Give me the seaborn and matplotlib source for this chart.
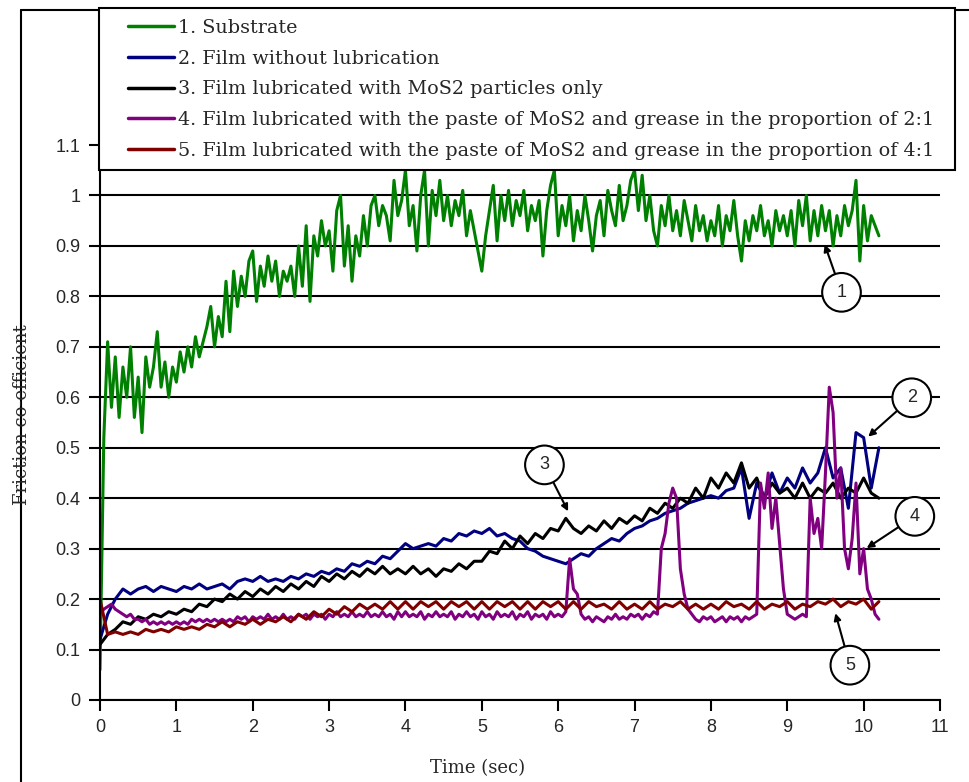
import numpy as np
import pandas as pd
import matplotlib.pyplot as plt
import seaborn as sns
from matplotlib.lines import Line2D
from matplotlib.patches import Rectangle

# series names and colours
labels = [
    "1. Substrate",
    "2. Film without lubrication",
    "3. Film lubricated with MoS2 particles only",
    "4. Film lubricated with the paste of MoS2 and grease in the proportion of 2:1",
    "5. Film lubricated with the paste of MoS2 and grease in the proportion of 4:1",
]
colors = ["#008000", "#000080", "#000000", "#800080", "#800000"]

substrate = [
    0.06, 0.52, 0.71, 0.58, 0.68, 0.56, 0.66, 0.60, 0.70, 0.56,
    0.64, 0.53, 0.68, 0.62, 0.66, 0.73, 0.62, 0.67, 0.60, 0.66,
    0.63, 0.69, 0.65, 0.70, 0.66, 0.72, 0.68, 0.71, 0.74, 0.78,
    0.70, 0.76, 0.72, 0.83, 0.73, 0.85, 0.78, 0.84, 0.80, 0.87,
    0.89, 0.79, 0.86, 0.82, 0.88, 0.83, 0.87, 0.80, 0.85, 0.83,
    0.86, 0.80, 0.90, 0.82, 0.94, 0.79, 0.92, 0.88, 0.95, 0.90,
    0.93, 0.85, 0.97, 1.00, 0.86, 0.94, 0.83, 0.92, 0.88, 0.96,
    0.90, 0.98, 1.00, 0.94, 0.98, 0.96, 0.91, 1.03, 0.96, 0.99,
    1.05, 0.94, 0.98, 0.89, 1.00, 1.05, 0.90, 1.01, 0.96, 1.03,
    0.95, 1.00, 0.94, 0.99, 0.96, 1.01, 0.92, 0.97, 0.93, 0.89,
    0.85, 0.92, 0.97, 1.02, 0.91, 1.00, 0.95, 1.01, 0.94, 0.99,
    0.96, 1.01, 0.93, 0.98, 0.95, 0.99, 0.88, 0.97, 1.02, 1.05,
    0.92, 0.98, 0.94, 1.00, 0.91, 0.97, 0.93, 1.00, 0.95, 0.89,
    0.96, 0.99, 0.92, 1.01, 0.97, 0.94, 1.02, 0.95, 0.98, 1.03,
    1.05, 0.97, 1.04, 0.95, 1.00, 0.93, 0.90, 0.98, 0.94, 1.00,
    0.93, 0.97, 0.92, 0.99, 0.95, 0.91, 0.98, 0.93, 0.96, 0.91,
    0.95, 0.92, 0.98, 0.90, 0.96, 0.93, 0.99, 0.92, 0.87, 0.95,
    0.91, 0.96, 0.93, 0.98, 0.92, 0.95, 0.90, 0.97, 0.93, 0.96,
    0.92, 0.97, 0.90, 0.99, 0.94, 1.00, 0.91, 0.97, 0.92, 0.98,
    0.93, 0.97, 0.90, 0.96, 0.92, 0.98, 0.94, 0.97, 1.03, 0.87,
    0.98, 0.91, 0.96, 0.94, 0.92,
]

# sampled every 0.1 s
no_lube = [
    0.12, 0.17, 0.20, 0.22, 0.21, 0.22, 0.225, 0.215, 0.225, 0.22,
    0.215, 0.225, 0.22, 0.23, 0.22, 0.225, 0.23, 0.22, 0.235, 0.24,
    0.235, 0.245, 0.235, 0.24, 0.235, 0.245, 0.24, 0.25, 0.245, 0.255,
    0.25, 0.26, 0.255, 0.27, 0.265, 0.275, 0.27, 0.285, 0.28, 0.295,
    0.31, 0.30, 0.305, 0.31, 0.305, 0.32, 0.315, 0.33, 0.325, 0.335,
    0.33, 0.34, 0.325, 0.33, 0.32, 0.315, 0.30, 0.295, 0.285, 0.28,
    0.275, 0.27, 0.28, 0.29, 0.285, 0.30, 0.31, 0.32, 0.315, 0.33,
    0.34, 0.345, 0.355, 0.36, 0.37, 0.375, 0.38, 0.39, 0.395, 0.40,
    0.405, 0.40, 0.415, 0.42, 0.46, 0.36, 0.43, 0.40, 0.45, 0.41,
    0.44, 0.42, 0.46, 0.43, 0.45, 0.50, 0.44, 0.46, 0.38, 0.53,
    0.52, 0.42, 0.50,
]

mos2_only = [
    0.11, 0.13, 0.14, 0.155, 0.15, 0.165, 0.16, 0.17, 0.165, 0.175,
    0.17, 0.18, 0.175, 0.19, 0.185, 0.20, 0.195, 0.21, 0.20, 0.215,
    0.205, 0.22, 0.21, 0.225, 0.215, 0.23, 0.22, 0.235, 0.225, 0.245,
    0.235, 0.25, 0.24, 0.255, 0.245, 0.26, 0.25, 0.265, 0.25, 0.26,
    0.25, 0.265, 0.25, 0.26, 0.245, 0.26, 0.255, 0.27, 0.26, 0.275,
    0.275, 0.295, 0.29, 0.315, 0.30, 0.325, 0.31, 0.33, 0.32, 0.34,
    0.335, 0.36, 0.34, 0.33, 0.345, 0.335, 0.355, 0.34, 0.36, 0.35,
    0.365, 0.355, 0.38, 0.37, 0.39, 0.38, 0.40, 0.39, 0.42, 0.40,
    0.44, 0.42, 0.45, 0.43, 0.47, 0.42, 0.44, 0.40, 0.43, 0.41,
    0.42, 0.40, 0.43, 0.40, 0.42, 0.41, 0.43, 0.40, 0.42, 0.41,
    0.44, 0.41, 0.40,
]

# sampled every 0.05 s
paste_2to1 = [
    0.17, 0.18, 0.185, 0.19, 0.18, 0.175, 0.17, 0.165, 0.17, 0.16,
    0.16, 0.155, 0.16, 0.15, 0.155, 0.15, 0.155, 0.15, 0.155, 0.15,
    0.155, 0.15, 0.155, 0.15, 0.16, 0.155, 0.16, 0.155, 0.16, 0.155,
    0.16, 0.155, 0.16, 0.155, 0.16, 0.155, 0.165, 0.16, 0.165, 0.155,
    0.165, 0.16, 0.165, 0.16, 0.17, 0.16, 0.165, 0.16, 0.17, 0.16,
    0.165, 0.16, 0.17, 0.165, 0.17, 0.16, 0.17, 0.165, 0.17, 0.16,
    0.17, 0.165, 0.175, 0.165, 0.17, 0.165, 0.175, 0.165, 0.17, 0.165,
    0.175, 0.165, 0.17, 0.165, 0.175, 0.165, 0.17, 0.16, 0.175, 0.165,
    0.175, 0.165, 0.17, 0.165, 0.175, 0.16, 0.17, 0.165, 0.175, 0.165,
    0.17, 0.165, 0.175, 0.16, 0.17, 0.165, 0.175, 0.165, 0.17, 0.16,
    0.175, 0.165, 0.17, 0.16, 0.175, 0.165, 0.17, 0.165, 0.175, 0.16,
    0.17, 0.165, 0.175, 0.16, 0.17, 0.165, 0.17, 0.16, 0.175, 0.165,
    0.17, 0.165, 0.175, 0.28, 0.22, 0.21, 0.17, 0.16, 0.165, 0.155,
    0.165, 0.16, 0.155, 0.165, 0.16, 0.17, 0.16, 0.165, 0.16, 0.17,
    0.165, 0.17, 0.16, 0.17, 0.165, 0.175, 0.17, 0.30, 0.33, 0.39,
    0.42, 0.40, 0.26, 0.21, 0.18, 0.17, 0.16, 0.155, 0.165, 0.16,
    0.165, 0.155, 0.16, 0.165, 0.155, 0.165, 0.16, 0.165, 0.155, 0.165,
    0.16, 0.165, 0.17, 0.43, 0.38, 0.45, 0.34, 0.40, 0.31, 0.22,
    0.17, 0.165, 0.16, 0.165, 0.17, 0.165, 0.40, 0.33, 0.36, 0.30,
    0.45, 0.62, 0.57, 0.40, 0.46, 0.30, 0.26, 0.32, 0.43, 0.25,
    0.30, 0.22, 0.20, 0.17, 0.16,
]

# sampled every 0.1 s
paste_4to1 = [
    0.20, 0.13, 0.135, 0.13, 0.135, 0.13, 0.14, 0.135, 0.14, 0.135,
    0.145, 0.14, 0.145, 0.14, 0.15, 0.145, 0.155, 0.145, 0.155, 0.15,
    0.16, 0.15, 0.16, 0.155, 0.165, 0.155, 0.17, 0.16, 0.175, 0.165,
    0.18, 0.17, 0.185, 0.175, 0.19, 0.18, 0.19, 0.18, 0.195, 0.18,
    0.195, 0.18, 0.195, 0.185, 0.195, 0.18, 0.195, 0.185, 0.195, 0.18,
    0.195, 0.18, 0.195, 0.185, 0.195, 0.18, 0.195, 0.18, 0.195, 0.185,
    0.195, 0.18, 0.195, 0.18, 0.195, 0.185, 0.19, 0.18, 0.195, 0.18,
    0.19, 0.18, 0.195, 0.18, 0.19, 0.185, 0.195, 0.18, 0.19, 0.18,
    0.19, 0.18, 0.195, 0.185, 0.19, 0.18, 0.195, 0.18, 0.19, 0.185,
    0.195, 0.18, 0.19, 0.185, 0.195, 0.19, 0.20, 0.185, 0.195, 0.19,
    0.20, 0.18, 0.195,
]

series = [substrate, no_lube, mos2_only, paste_2to1, paste_4to1]
steps = [0.05, 0.1, 0.1, 0.05, 0.1]

yticks = [0, 0.1, 0.2, 0.3, 0.4, 0.5, 0.6, 0.7, 0.8, 0.9, 1.0, 1.1]
ytick_labels = ["0", "0.1", "0.2", "0.3", "0.4", "0.5", "0.6", "0.7", "0.8", "0.9", "1", "1.1"]
xticks = list(range(0, 12))

# circled curve numbers: label, arrow tip, circle centre (data coords)
callouts = [
    ("1", (9.49, 0.903), (9.71, 0.808)),
    ("2", (10.06, 0.522), (10.63, 0.599)),
    ("3", (6.13, 0.374), (5.82, 0.466)),
    ("4", (10.04, 0.301), (10.67, 0.364)),
    ("5", (9.63, 0.172), (9.82, 0.069)),
]

frames = []
for lab, vals, dt in zip(labels, series, steps):
    t = np.round(np.arange(len(vals)) * dt, 3)
    frames.append(pd.DataFrame({"time": t, "mu": vals, "series": lab}))
df = pd.concat(frames, ignore_index=True)

sns.set_style("ticks")
serif = "DejaVu Serif"

W, H = 969, 782
fig = plt.figure(figsize=(W / 100, H / 100), dpi=100)
ax = fig.add_axes([100 / W, 1 - 700 / H, 840 / W, 555 / H])

sns.lineplot(data=df, x="time", y="mu", hue="series", hue_order=labels,
             palette=dict(zip(labels, colors)), estimator=None, sort=False,
             lw=2.2, ax=ax, legend=False)

ax.set_xlim(0, 11)
ax.set_ylim(0, 1.1)
ax.set_xticks(xticks)
ax.set_xticklabels([str(x) for x in xticks])
ax.set_yticks(yticks)
ax.set_yticklabels(ytick_labels)
ax.yaxis.grid(True, color="black", lw=1.5)
ax.set_axisbelow(True)
ax.set_xlabel("")
ax.set_ylabel("")
for s in ["top", "right"]:
    ax.spines[s].set_visible(False)
for s in ["left", "bottom"]:
    ax.spines[s].set_color("black")
    ax.spines[s].set_linewidth(1.5)
ax.tick_params(direction="out", length=8, width=1.5, color="black",
               labelsize=13, pad=6)
for lbl in ax.get_xticklabels() + ax.get_yticklabels():
    lbl.set_family("Liberation Sans")

for num, tip, ctr in callouts:
    ax.annotate(num, xy=tip, xytext=ctr, ha="center", va="center",
                fontsize=13, family="Liberation Sans",
                bbox=dict(boxstyle="circle,pad=0.6", fc="white", ec="black", lw=1.5),
                arrowprops=dict(arrowstyle="-|>", color="black", lw=1.5,
                                mutation_scale=10, shrinkA=0, shrinkB=0),
                annotation_clip=False, zorder=6)

fig.text(478 / W, 1 - 768 / H, "Time (sec)", ha="center", va="center",
         fontsize=13, family=serif)
fig.text(22 / W, 1 - 415 / H, "Friction co-efficient", ha="center", va="center",
         rotation=90, fontsize=13, family=serif)

# outer frame lines
fig.add_artist(Line2D([21 / W, 21 / W], [0, 1 - 10 / H], color="black", lw=1.5))
fig.add_artist(Line2D([21 / W, 1], [1 - 10 / H, 1 - 10 / H], color="black", lw=1.5))

# legend box over the top of the plot
fig.add_artist(Rectangle((99 / W, 1 - 170 / H), 856 / W, 162 / H,
                         transform=fig.transFigure, fc="white", ec="black",
                         lw=1.5, zorder=4))
handles = [Line2D([], [], color=c, lw=2.5) for c in colors]
fig.legend(handles, labels, loc="upper left", bbox_to_anchor=(128 / W, 1 - 19 / H),
           frameon=False, borderaxespad=0, borderpad=0, handlelength=2.4,
           handletextpad=0.2, labelspacing=0.66, prop={"family": serif, "size": 13.8})

fig.savefig("out.png", dpi=100)
